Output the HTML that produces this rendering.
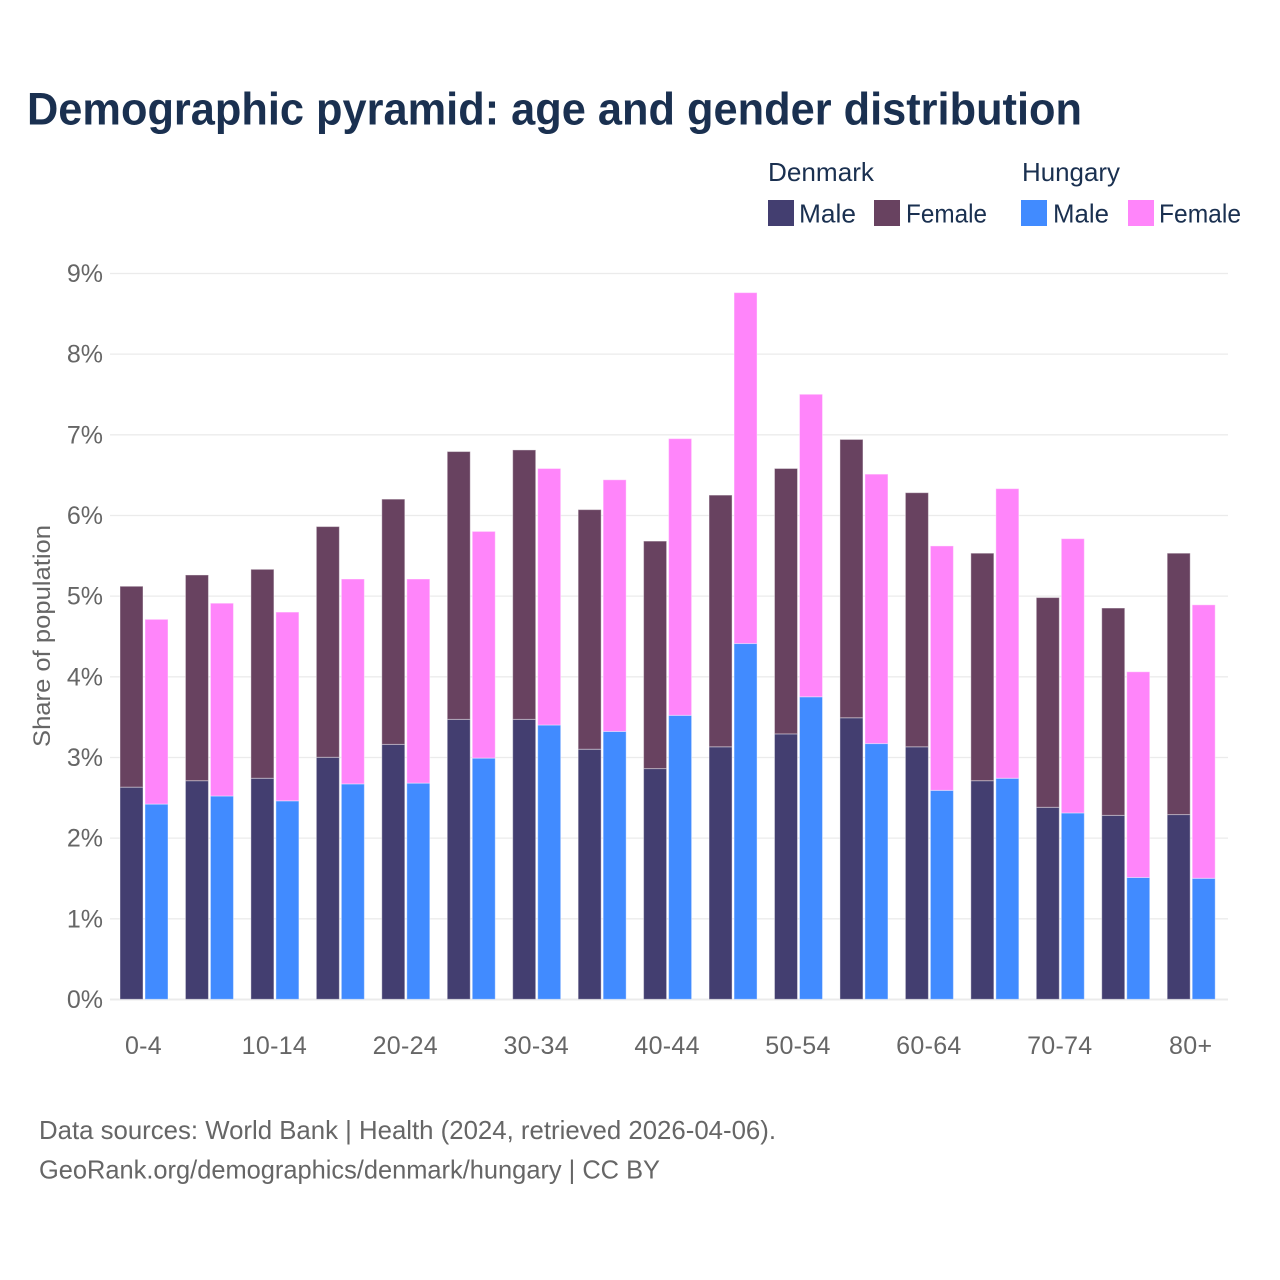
<!DOCTYPE html>
<html lang="en">
<head>
<meta charset="utf-8">
<title>Demographic pyramid</title>
<style>
html,body{margin:0;padding:0;background:#fff;}
svg{display:block;font-family:"Liberation Sans",sans-serif;}
</style>
</head>
<body>
<svg id="chart" width="1280" height="1280" viewBox="0 0 1280 1280" xmlns="http://www.w3.org/2000/svg">
  <rect x="0" y="0" width="1280" height="1280" fill="#ffffff"/>
  <text x="27" y="124.5" font-size="45" font-weight="700" fill="#1a3050" textLength="1055" lengthAdjust="spacingAndGlyphs">Demographic pyramid: age and gender distribution</text>

  <g font-size="26" fill="#1a3050">
    <text x="768" y="181" textLength="106" lengthAdjust="spacingAndGlyphs">Denmark</text>
    <text x="1022" y="181" textLength="98" lengthAdjust="spacingAndGlyphs">Hungary</text>
    <rect x="768" y="200" width="26" height="26" fill="#433e70"/>
    <text x="799" y="222.5" textLength="57" lengthAdjust="spacingAndGlyphs">Male</text>
    <rect x="874" y="200" width="26" height="26" fill="#684260"/>
    <text x="906" y="222.5" textLength="81" lengthAdjust="spacingAndGlyphs">Female</text>
    <rect x="1021" y="200" width="26" height="26" fill="#418bff"/>
    <text x="1053" y="222.5" textLength="56" lengthAdjust="spacingAndGlyphs">Male</text>
    <rect x="1128" y="200" width="26" height="26" fill="#ff85fa"/>
    <text x="1159" y="222.5" textLength="82" lengthAdjust="spacingAndGlyphs">Female</text>
  </g>

  <g id="grid"></g>
  <g id="bars"></g>
  <g id="yticks"></g>
  <g id="xticks"></g>

  <text transform="translate(50,636) rotate(-90)" text-anchor="middle" font-size="24" fill="#666666" textLength="222" lengthAdjust="spacingAndGlyphs">Share of population</text>

  <text x="39" y="1139" font-size="26" fill="#666666" textLength="737" lengthAdjust="spacingAndGlyphs">Data sources: World Bank | Health (2024, retrieved 2026-04-06).</text>
  <text x="39" y="1178.5" font-size="26" fill="#666666" textLength="621" lengthAdjust="spacingAndGlyphs">GeoRank.org/demographics/denmark/hungary | CC BY</text>
</svg>
<script>
var categories = ['0-4','5-9','10-14','15-19','20-24','25-29','30-34','35-39','40-44','45-49','50-54','55-59','60-64','65-69','70-74','75-79','80+'];
var denmarkMale = [2.63,2.71,2.74,3.00,3.16,3.47,3.47,3.10,2.86,3.13,3.29,3.49,3.13,2.71,2.38,2.28,2.29];
var denmarkFemale = [2.49,2.55,2.59,2.86,3.04,3.32,3.34,2.97,2.82,3.12,3.29,3.45,3.15,2.82,2.60,2.57,3.24];
var hungaryMale = [2.42,2.52,2.46,2.67,2.68,2.99,3.40,3.32,3.52,4.41,3.75,3.17,2.59,2.74,2.31,1.51,1.50];
var hungaryFemale = [2.29,2.39,2.34,2.54,2.53,2.81,3.18,3.12,3.43,4.35,3.75,3.34,3.03,3.59,3.40,2.55,3.39];
var yTickValues = [0,1,2,3,4,5,6,7,8,9];
var xTickLabels = ['0-4','10-14','20-24','30-34','40-44','50-54','60-64','70-74','80+'];

var NS = 'http://www.w3.org/2000/svg';
var plotLeft = 110, plotRight = 1228, baseY = 999.3, unitY = 80.67;
var firstCenter = 144, groupStep = 65.45, barWidth = 23, barGap = 2;
var colors = {dkM:'#433e70', dkF:'#684260', huM:'#418bff', huF:'#ff85fa'};

function yScale(v){ return baseY - v * unitY; }
function xCenter(i){ return firstCenter + i * groupStep; }

function makeBar(x, v0, v1, fill){
  var r = document.createElementNS(NS,'rect');
  r.setAttribute('x', x);
  r.setAttribute('y', yScale(v1));
  r.setAttribute('width', barWidth);
  r.setAttribute('height', yScale(v0) - yScale(v1));
  r.setAttribute('fill', fill);
  r.setAttribute('stroke', '#ffffff');
  r.setAttribute('stroke-opacity', '0.4');
  r.setAttribute('stroke-width', '1');
  return r;
}

var grid = document.getElementById('grid');
yTickValues.forEach(function(v){
  var l = document.createElementNS(NS,'line');
  
  
  l.setAttribute('x1', plotLeft);
  l.setAttribute('x2', plotRight);
  l.setAttribute('y1', 999.5 - v * unitY);
  l.setAttribute('y2', 999.5 - v * unitY);
  l.setAttribute('stroke', '#ebebeb');
  l.setAttribute('stroke-width', v === 0 ? 2 : 1.3);
  grid.appendChild(l);
});

var bars = document.getElementById('bars');
categories.forEach(function(c, i){
  var cx = xCenter(i);
  var leftX = cx - barGap/2 - barWidth;
  var rightX = cx + barGap/2;

  var a = makeBar(leftX, 0, denmarkMale[i], colors.dkM);
  
  
  bars.appendChild(a);

  var b = makeBar(leftX, denmarkMale[i], denmarkMale[i] + denmarkFemale[i], colors.dkF);
  
  
  bars.appendChild(b);

  var d = makeBar(rightX, 0, hungaryMale[i], colors.huM);
  
  
  bars.appendChild(d);

  var e = makeBar(rightX, hungaryMale[i], hungaryMale[i] + hungaryFemale[i], colors.huF);
  
  
  bars.appendChild(e);
});

var yticks = document.getElementById('yticks');
yTickValues.forEach(function(v){
  var t = document.createElementNS(NS,'text');
  
  
  t.setAttribute('x', 103);
  t.setAttribute('y', 999.5 - v * unitY + 8.5);
  t.setAttribute('text-anchor', 'end');
  t.setAttribute('font-size', '25');
  t.setAttribute('fill', '#666666');
  t.textContent = v + '%';
  yticks.appendChild(t);
});

var xticks = document.getElementById('xticks');
xTickLabels.forEach(function(lbl){
  var idx = categories.indexOf(lbl);
  var t = document.createElementNS(NS,'text');
  
  
  t.setAttribute('x', xCenter(idx) - 0.5);
  t.setAttribute('y', 1054);
  t.setAttribute('text-anchor', 'middle');
  t.setAttribute('font-size', '25');
  t.setAttribute('letter-spacing', '0.3');
  t.setAttribute('fill', '#666666');
  t.textContent = lbl;
  xticks.appendChild(t);
});
</script>
</body>
</html>
